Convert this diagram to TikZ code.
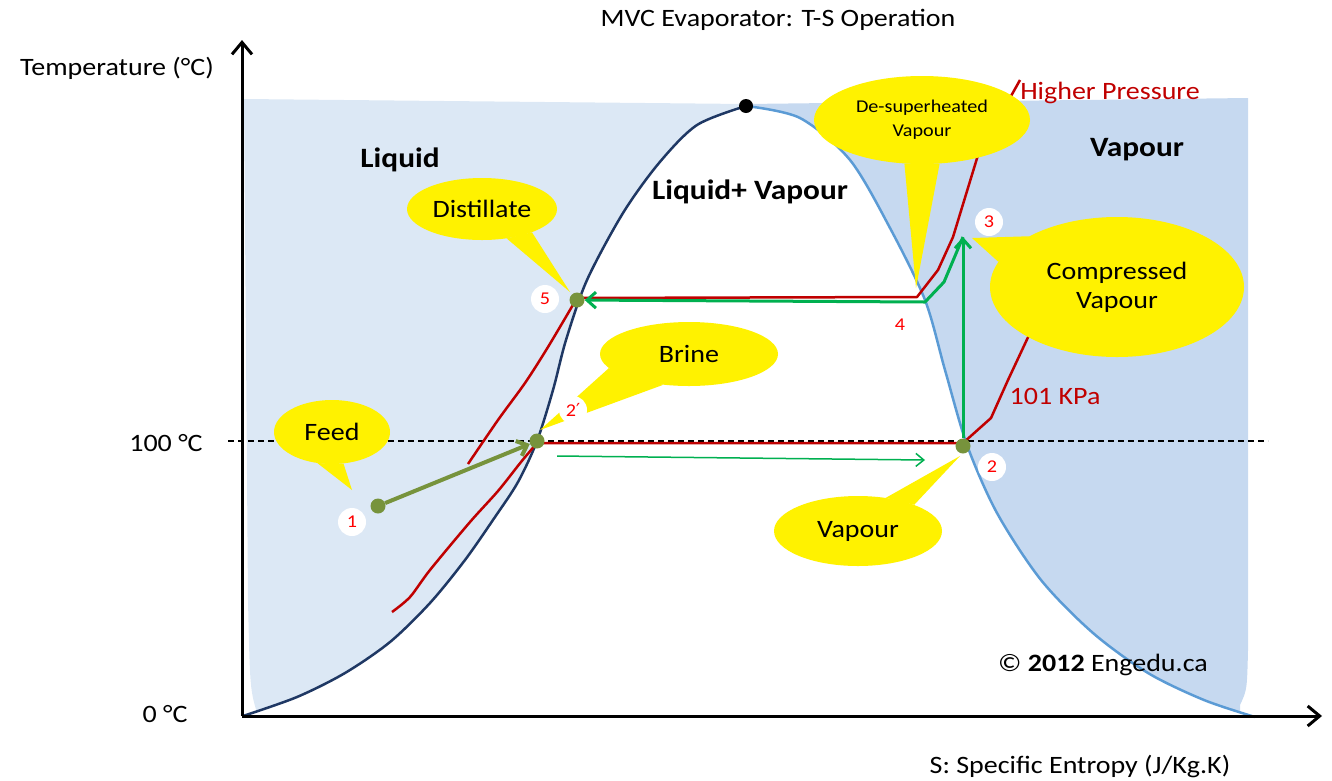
\documentclass[tikz,border=0pt]{standalone}
\usepackage{fontspec}
\setmainfont{Carlito}[FakeStretch=1.12]
\newfontfamily\primefont{DejaVu Sans}
\usetikzlibrary{arrows.meta,shapes.geometric}
\definecolor{liqblue}{RGB}{220,232,245}
\definecolor{vapblue}{RGB}{198,217,240}
\definecolor{domenavy}{RGB}{31,56,100}
\definecolor{domesky}{RGB}{91,155,213}
\definecolor{isored}{RGB}{192,0,0}
\definecolor{numred}{RGB}{255,0,0}
\definecolor{cyclegreen}{RGB}{0,176,80}
\definecolor{feedolive}{RGB}{119,147,60}

\begin{document}
\begin{tikzpicture}[x=1pt,y=-1pt,
  callout/.style={ellipse, fill=yellow, inner sep=0pt, align=center, font=\fontsize{25}{29}\selectfont},
  dot/.style={circle, fill=feedolive, inner sep=0pt, minimum size=15pt},
  num/.style={circle, fill=white, inner sep=0pt, minimum size=28pt, text=numred, font=\fontsize{18}{18}\selectfont},
  lbl/.style={font=\fontsize{25}{29}\selectfont},
  region/.style={font=\bfseries\fontsize{28}{30}\selectfont},
  isobar/.style={isored, line width=2.5pt, line join=round},
  cycleline/.style={cyclegreen, line width=3pt, line join=round, -{Straight Barb[length=9pt,width=16pt]}}]
\useasboundingbox (0,0) rectangle (1332,780);

% regions
\fill[liqblue] (244,99) -- (746,104) -- (746,716) -- (258,716) .. controls (250,690) .. (248,600) -- cycle;
\fill[vapblue] (746,104) -- (1248,98) -- (1248,650) .. controls (1247,690) .. (1240,705) -- (1240,716) -- (746,716) -- cycle;
\fill[white] plot[smooth] coordinates {(243,716) (297,697) (345,673) (390,642) (430,603) (465,560) (495,517) (518,482) (537,441) (553,390) (566,340) (587,280) (623,213) (659,163) (697,125) (746,106)}
  -- plot[smooth] coordinates {(746,106) (800,118) (850,160) (890,228) (925,300) (945,370) (967,445) (997,513) (1041,580) (1093,633) (1148,673) (1204,700) (1255,717)} -- cycle;

% 100 C line
\coordinate (d1) at (228,441);
\coordinate (d2) at (1268,441);
\draw[line width=1.5pt, dash pattern=on 6pt off 4pt] (d1) -- (d2);

% saturation dome
\draw[domenavy, line width=2.5pt] plot[smooth] coordinates {(243,716) (297,697) (345,673) (390,642) (430,603) (465,560) (495,517) (518,482) (537,441) (553,390) (566,340) (587,280) (623,213) (659,163) (697,125) (746,106)};
\draw[domesky, line width=2.5pt] plot[smooth] coordinates {(746,106) (800,118) (850,160) (890,228) (925,300) (945,370) (967,445) (997,513) (1041,580) (1093,633) (1148,673) (1204,700) (1255,717)};
\node[circle, fill=black, inner sep=0pt, minimum size=14pt] (crit) at (746,106) {};

% axes
\coordinate (o) at (242,716);
\coordinate (ytop) at (242,40);
\coordinate (xend) at (1322,716);
\draw[line width=3pt, -{Straight Barb[length=12pt,width=20pt]}] (o) -- (ytop);
\draw[line width=3pt, -{Straight Barb[length=12pt,width=20pt]}] (o) -- (xend);

% isobars
\draw[isobar] plot[smooth] coordinates {(392,612) (410,597) (430,570) (470,522) (498,491) (521,462) (537,443)}
  -- (963,443) -- (991,418) -- (1008,380) -- (1030,333) -- (1045,300);
\draw[isobar] plot[smooth] coordinates {(468,464) (498,420) (525,383) (548,347) (577,298)}
  -- (917,297) -- (938,270) -- (953,237) -- (978,155) -- (1020,80);

% state points
\node[dot] (p1) at (378,506) {};
\node[dot] (p2b) at (537,441) {};
\node[dot] (p5) at (577,300) {};
\node[dot] (p2) at (963,446) {};
\coordinate (p3) at (963,237);
\coordinate (k34) at (944,282);
\coordinate (p4) at (925,302);
\coordinate (v1) at (557,456);
\coordinate (v2) at (925,460);

\draw[feedolive, line width=4pt, -{Straight Barb[length=9pt,width=16pt]}] (p1) -- (p2b);
\draw[cycleline] (p2) -- (p3);
\draw[cycleline] (p3) -- (k34) -- (p4) -- (p5);
\draw[cyclegreen, line width=1.5pt, -{Straight Barb[length=8pt,width=13pt]}] (v1) -- (v2);

% callouts
\coordinate (t5) at (570,292);
\coordinate (t1) at (352,490);
\coordinate (t2b) at (540,430);
\coordinate (t4) at (916,288);
\coordinate (t3) at (972,238);
\coordinate (t2) at (960,456);

\node[callout, minimum width=150pt, minimum height=62pt] (distil) at (482,209) {Distillate};
\fill[yellow] (distil.-50) -- (t5) -- (distil.-25) -- cycle;
\node[callout, minimum width=116pt, minimum height=64pt] (feed) at (332,432) {Feed};
\fill[yellow] (feed.-115) -- (t1) -- (feed.-70) -- cycle;
\node[callout, minimum width=178pt, minimum height=64pt] (brine) at (689,354) {Brine};
\fill[yellow] (brine.-170) -- (t2b) -- (brine.-130) -- cycle;
\node[callout, minimum width=216pt, minimum height=88pt, font=\fontsize{18}{24}\selectfont] (desup) at (922,120) {De-superheated\\Vapour};
\fill[yellow] (desup.-112) -- (t4) -- (desup.-68) -- cycle;
\node[callout, minimum width=254pt, minimum height=140pt] (comp) at (1117,287) {Compressed\\Vapour};
\fill[yellow] (comp.150) -- (t3) -- (comp.168) -- cycle;
\node[callout, minimum width=168pt, minimum height=70pt] (vap) at (858,531) {Vapour};
\fill[yellow] (vap.50) -- (t2) -- (vap.25) -- cycle;

% state numbers
\node[num] (n1) at (352,522) {1};
\node[num] (n2b) at (573,410) {2{\primefont ′}};
\node[num] (n5) at (545,299) {5};
\node[num] (n4) at (900,325) {4};
\node[num] (n3) at (989,222) {3};
\node[num] (n2) at (992,467) {2};

% texts
\node[lbl] (title) at (778,20) {MVC Evaporator: T-S Operation};
\node[lbl] (ylab) at (117,68) {Temperature (°C)};
\node[lbl] (t100) at (166,443) {100 °C};
\node[lbl] (t0) at (165,714) {0 °C};
\node[lbl] (xlab) at (1080,766) {S: Specific Entropy (J/Kg.K)};
\node[region] (liq) at (400,160) {Liquid};
\node[region] (mix) at (750,192) {Liquid+ Vapour};
\node[region] (vapr) at (1137,150) {Vapour};
\node[lbl] (copy) at (1103,665) {© \textbf{2012} Engedu.ca};
\node[lbl, text=isored] (low) at (1055,396) {101 KPa};
\node[lbl, text=isored] (high) at (1110,93) {Higher Pressure};
\end{tikzpicture}
\end{document}
